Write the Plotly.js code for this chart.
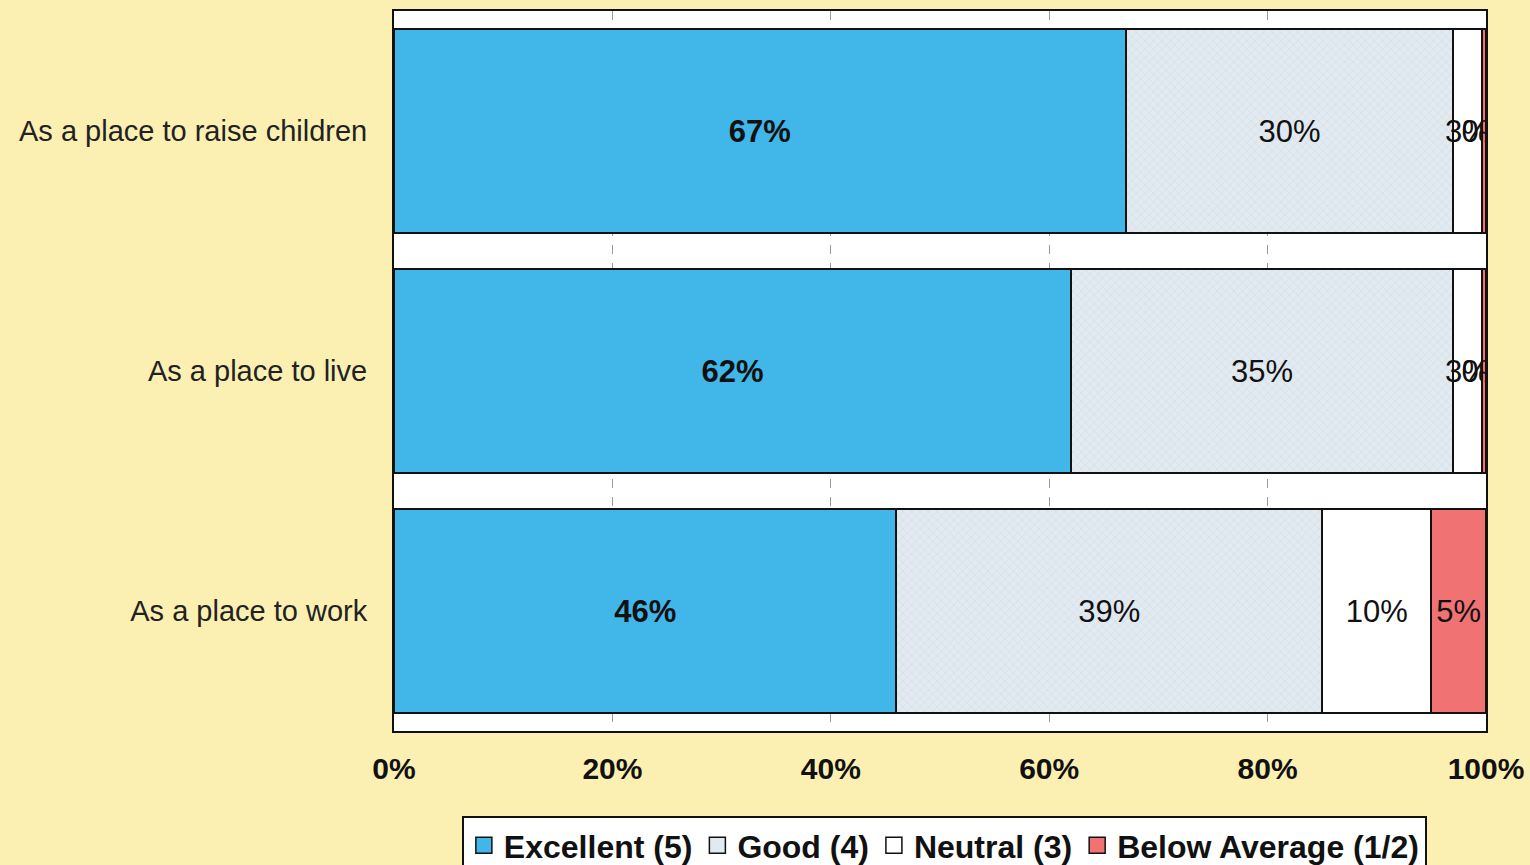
<!DOCTYPE html>
<html>
<head>
<meta charset="utf-8">
<script src="https://cdn.plot.ly/plotly-3.0.1.min.js"></script>
<style>
  html, body { margin: 0; padding: 0; background: #FBF0B2; }
  #chart { width: 1530px; height: 865px; }
</style>
</head>
<body>
<div id="chart"></div>
<script>
// Survey ratings of the community (percent of respondents)
const categories = ['As a place to raise children', 'As a place to live', 'As a place to work'];
const excellent = [67, 62, 46];
const good = [30, 35, 39];
const neutral = [2.6, 2.6, 10];
const belowAverage = [0.4, 0.4, 5];

const seriesNames = ['Excellent (5)', 'Good (4)', 'Neutral (3)', 'Below Average (1/2)'];
const seriesColors = ['#41B6E8', '#E2EAF1', '#FFFFFF', '#F07272'];
const tickValues = [0, 20, 40, 60, 80, 100];
const tickLabels = ['0%', '20%', '40%', '60%', '80%', '100%'];

const FONT = 'Liberation Sans, Arial, Helvetica, sans-serif';
const outline = { color: '#111111', width: 2 };

function series(i, values, extra, bold) {
  return {
    type: 'bar',
    orientation: 'h',
    name: seriesNames[i],
    legendgroup: 'g' + i,
    showlegend: false,
    y: categories,
    x: values,
    marker: Object.assign({ color: seriesColors[i], line: outline }, extra),
    texttemplate: '%{x:.0f}%',
    textposition: 'inside',
    insidetextanchor: 'middle',
    textangle: 0,
    constraintext: 'none',
    textfont: { family: FONT, size: bold ? 32 : 31, color: '#111111', weight: bold ? 'bold' : 'normal' },
    hoverinfo: 'skip'
  };
}

// Legend swatches: square markers give a larger key than the bar default
function legendKey(i) {
  return {
    type: 'scatter',
    mode: 'markers',
    name: seriesNames[i],
    legendgroup: 'g' + i,
    x: [null],
    y: [null],
    marker: { symbol: 'square', size: 16, color: seriesColors[i], line: { color: '#111111', width: 1.5 } },
    hoverinfo: 'skip'
  };
}

const data = [
  series(0, excellent, {}, true),
  series(1, good, {
    pattern: { shape: 'x', bgcolor: '#E2EAF1', fgcolor: '#C6D1DB', size: 6, solidity: 0.12 }
  }, false),
  series(2, neutral, {}, false),
  series(3, belowAverage, {}, false),
  legendKey(0), legendKey(1), legendKey(2), legendKey(3)
];

const layout = {
  width: 1530,
  height: 865,
  barmode: 'stack',
  bargap: 0.15,
  paper_bgcolor: '#FBF0B2',
  plot_bgcolor: '#FFFFFF',
  margin: { l: 394, r: 44, t: 11, b: 134, autoexpand: false },
  showlegend: true,
  uniformtext: { mode: 'show', minsize: 31 },
  font: { family: FONT, color: '#111111' },
  xaxis: {
    range: [0, 100],
    tickvals: tickValues,
    ticktext: tickLabels,
    tickfont: { family: FONT, size: 30, color: '#111111', weight: 'bold' },
    ticks: '',
    ticklabelstandoff: 10,
    showgrid: true,
    gridcolor: '#9A9A9A',
    gridwidth: 1,
    griddash: 'dash',
    zeroline: false,
    showline: true,
    mirror: true,
    linecolor: '#111111',
    linewidth: 2,
    fixedrange: true
  },
  yaxis: {
    autorange: 'reversed',
    tickfont: { family: FONT, size: 29, color: '#222222' },
    ticks: '',
    ticklabelstandoff: 19,
    showgrid: false,
    zeroline: false,
    showline: true,
    mirror: true,
    linecolor: '#111111',
    linewidth: 2,
    fixedrange: true
  },
  legend: {
    orientation: 'h',
    x: 0.504,
    xanchor: 'center',
    y: -0.118,
    yanchor: 'top',
    bgcolor: '#FFFFFF',
    bordercolor: '#111111',
    borderwidth: 2,
    traceorder: 'normal',
    itemwidth: 30,
    itemsizing: 'trace',
    font: { family: FONT, size: 32, color: '#111111', weight: 'bold' }
  }
};

Plotly.newPlot('chart', data, layout, { staticPlot: true, displayModeBar: false });
</script>
</body>
</html>
